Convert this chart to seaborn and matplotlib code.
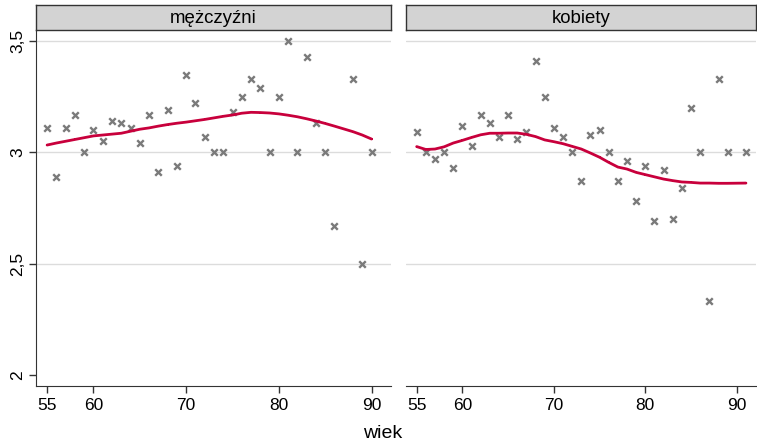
import matplotlib
matplotlib.use("Agg")
import matplotlib.pyplot as plt
import pandas as pd
import seaborn as sns

# wiek / srednia ocena - mezczyzni
men_age = [55, 56, 57, 58, 59, 60, 61, 62, 63, 64, 65, 66, 67, 68, 69, 70, 71, 72,
           73, 74, 75, 76, 77, 78, 79, 80, 81, 82, 83, 84, 85, 86, 88, 89, 90]
men_val = [3.11, 2.89, 3.11, 3.17, 3.00, 3.10, 3.05, 3.14, 3.13, 3.11, 3.04, 3.17,
           2.91, 3.19, 2.94, 3.35, 3.22, 3.07, 3.00, 3.00, 3.18, 3.25, 3.33, 3.29,
           3.00, 3.25, 3.50, 3.00, 3.43, 3.13, 3.00, 2.67, 3.33, 2.50, 3.00]
men_fit = [3.033, 3.042, 3.050, 3.058, 3.066, 3.074, 3.078, 3.082, 3.086, 3.095,
           3.104, 3.110, 3.118, 3.125, 3.131, 3.136, 3.142, 3.148, 3.155, 3.162,
           3.168, 3.176, 3.180, 3.179, 3.177, 3.173, 3.167, 3.160, 3.151, 3.141,
           3.130, 3.118, 3.093, 3.078, 3.060]

# kobiety
women_age = [55, 56, 57, 58, 59, 60, 61, 62, 63, 64, 65, 66, 67, 68, 69, 70, 71, 72,
             73, 74, 75, 76, 77, 78, 79, 80, 81, 82, 83, 84, 85, 86, 87, 88, 89, 91]
women_val = [3.09, 3.00, 2.97, 3.00, 2.93, 3.12, 3.03, 3.17, 3.13, 3.07, 3.17, 3.06,
             3.09, 3.41, 3.25, 3.11, 3.07, 3.00, 2.87, 3.08, 3.10, 3.00, 2.87, 2.96,
             2.78, 2.94, 2.69, 2.92, 2.70, 2.84, 3.20, 3.00, 2.33, 3.33, 3.00, 3.00]
women_fit = [3.026, 3.013, 3.015, 3.025, 3.042, 3.054, 3.067, 3.079, 3.086, 3.086,
             3.087, 3.087, 3.081, 3.071, 3.056, 3.048, 3.039, 3.027, 3.015, 2.997,
             2.978, 2.955, 2.934, 2.925, 2.910, 2.900, 2.890, 2.880, 2.873, 2.867,
             2.865, 2.862, 2.862, 2.861, 2.861, 2.862]

panels = ["mężczyźni", "kobiety"]
y_ticks = [2, 2.5, 3, 3.5]
y_labels = ["2", "2,5", "3", "3,5"]
x_ticks = [55, 60, 70, 80, 90]

df = pd.concat([
    pd.DataFrame({"plec": panels[0], "wiek": men_age, "ocena": men_val, "fit": men_fit}),
    pd.DataFrame({"plec": panels[1], "wiek": women_age, "ocena": women_val, "fit": women_fit}),
])

sns.set_style("white")
plt.rcParams["font.family"] = ["Liberation Sans", "DejaVu Sans"]
plt.rcParams["text.color"] = "black"
plt.rcParams["xtick.color"] = "black"
plt.rcParams["ytick.color"] = "black"

fig = plt.figure(figsize=(7.57, 4.46), dpi=100)
W, H = 757, 446
boxes = [(36, 391), (405.7, 756)]
top, bottom, strip_top = 30, 386, 5

for i, (name, (x0, x1)) in enumerate(zip(panels, boxes)):
    ax = fig.add_axes([x0 / W, (H - bottom) / H, (x1 - x0) / W, (bottom - top) / H])
    sub = df[df["plec"] == name]
    for g in [2.5, 3, 3.5]:
        ax.axhline(g, color="#dcdcdc", lw=1, zorder=0)
    sns.scatterplot(data=sub, x="wiek", y="ocena", marker="x", color="#7a7a7a",
                    s=22, linewidth=1.7, ax=ax, zorder=2)
    sns.lineplot(data=sub, x="wiek", y="fit", color="#c8003c", lw=2,
                 marker="s", markersize=2, markeredgewidth=0, ax=ax, zorder=3)
    ax.set_xlim(53.8, 92.1)
    ax.set_ylim(1.95, 3.55)
    ax.set_xticks(x_ticks)
    ax.set_xticklabels([str(t) for t in x_ticks], fontsize=12.5)
    ax.tick_params(axis="x", direction="out", length=5, width=1, color="#333333", pad=4,
                   bottom=True, labelcolor="black")
    ax.set_xlabel("")
    ax.set_ylabel("")
    for s in ["top", "right"]:
        ax.spines[s].set_visible(False)
    ax.spines["bottom"].set_color("#333333")
    if i == 0:
        ax.set_yticks(y_ticks)
        ax.set_yticklabels(y_labels, fontsize=12.5, rotation=90, va="center")
        ax.tick_params(axis="y", direction="out", length=5, width=1, color="#333333",
                       left=True, pad=3, labelcolor="black")
        ax.spines["left"].set_color("#333333")
    else:
        ax.set_yticks([])
        ax.spines["left"].set_visible(False)

    sax = fig.add_axes([x0 / W, (H - top) / H, (x1 - x0) / W, (top - strip_top) / H])
    sax.set_facecolor("#d3d3d3")
    sax.set_xticks([])
    sax.set_yticks([])
    for s in sax.spines.values():
        s.set_color("#333333")
        s.set_linewidth(1)
    sax.text(0.5, 0.45, name, ha="center", va="center", fontsize=13.4,
             color="black", transform=sax.transAxes)

fig.text(382.5 / W, (H - 434) / H, "wiek", ha="center", va="center", fontsize=14,
         color="black")

fig.savefig("out.png", dpi=100)
